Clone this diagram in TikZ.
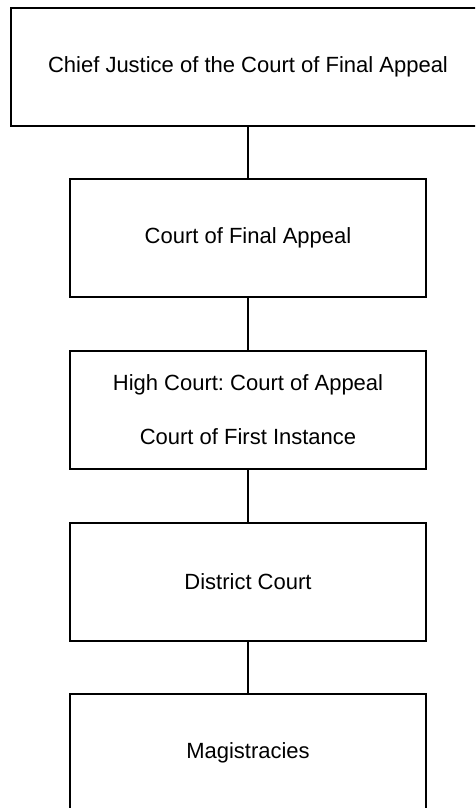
\documentclass[tikz,border=0pt]{standalone}
\usepackage{fontspec}
\setmainfont{Liberation Sans}
\frenchspacing
\begin{document}
\begin{tikzpicture}[x=1pt,y=-1pt,
  courtbox/.style={draw=black, line width=1.1pt, rectangle, inner sep=0pt,
    minimum width=356pt, minimum height=118pt, align=center,
    font=\fontsize{22}{54}\selectfont},
  link/.style={draw=black, line width=1.1pt}]
\useasboundingbox (0,0) rectangle (475,808);
\clip (0,0) rectangle (475,808);
\node[courtbox, minimum width=474pt] (cj) at (248,67) {Chief Justice of the Court of Final Appeal};
\node[courtbox] (cfa) at (248,238) {Court of Final Appeal};
\node[courtbox] (hc) at (248,410) {High Court: Court of Appeal\\Court of First Instance};
\node[courtbox] (dc) at (248,582) {District Court};
\node[courtbox] (mag) at (248,753) {Magistracies};
\draw[link] (cj) -- (cfa);
\draw[link] (cfa) -- (hc);
\draw[link] (hc) -- (dc);
\draw[link] (dc) -- (mag);
\end{tikzpicture}
\end{document}
